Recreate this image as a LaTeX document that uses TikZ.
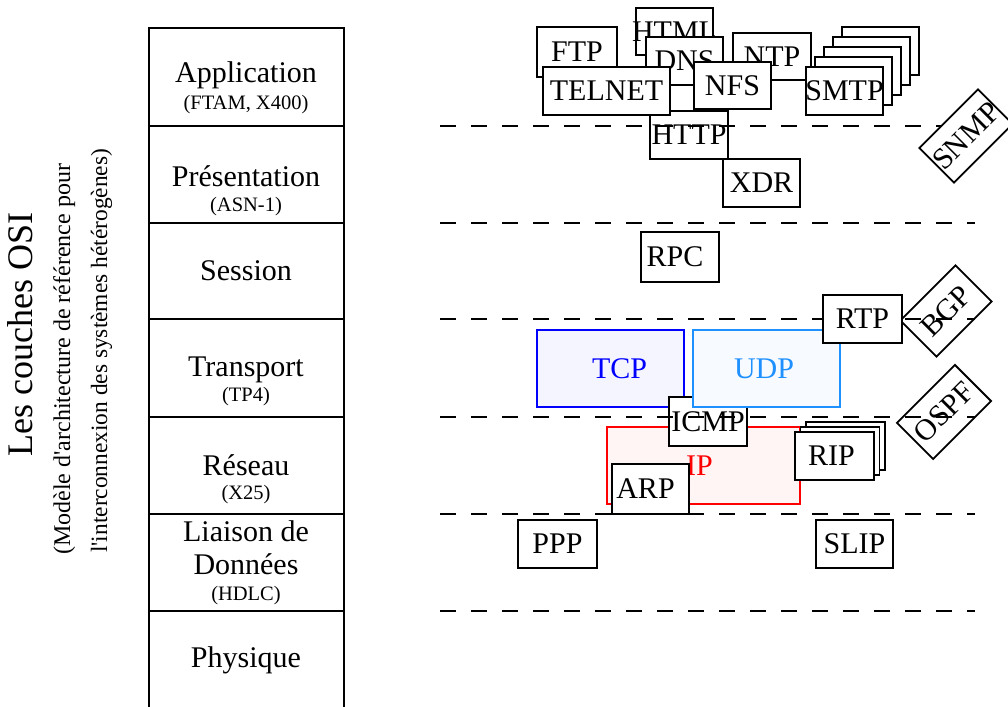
\documentclass[tikz,border=0pt]{standalone}
\usepackage{fontspec}
\setmainfont{Liberation Serif}[Ligatures=TeXOff]
\definecolor{tcpblue}{RGB}{0,0,255}
\definecolor{tcpfill}{RGB}{245,245,255}
\definecolor{udpblue}{RGB}{30,144,255}
\definecolor{udpfill}{RGB}{247,251,255}
\definecolor{ipred}{RGB}{255,0,0}
\definecolor{ipfill}{RGB}{255,245,245}
\begin{document}
\begin{tikzpicture}[x=1pt,y=-1pt,
  osi/.style={line width=1.8pt, line join=miter},
  layer/.style={font=\fontsize{30}{36}\selectfont, anchor=base, inner sep=0},
  sub/.style={font=\fontsize{20.5}{24}\selectfont, anchor=base, inner sep=0},
  side/.style={font=\fontsize{24}{28}\selectfont, rotate=90, anchor=base west, inner sep=0},
  sep/.style={line width=1.8pt, dash pattern=on 16pt off 15pt},
  proto/.style={draw, line width=1.8pt, fill=white, inner sep=0,
    font=\fontsize{30}{36}\selectfont, minimum width=78pt, minimum height=48pt},
  tilted/.style={proto, rotate=45},
]
\useasboundingbox (0,0) rectangle (1008,706);

% ---- OSI column ----
\draw[osi] (149,707) -- (149,28) -- (344,28) -- (344,707);
\foreach \yy in {126,223,319,417,514,611}{\draw[osi] (149,\yy) -- (344,\yy);}
\node[layer] (app) at (246,83) {Application};
\node[sub] (appsub) at (246,110) {(FTAM, X400)};
\node[layer] (pres) at (246,186) {Présentation};
\node[sub] (pressub) at (246,211) {(ASN-1)};
\node[layer] (sess) at (246,280) {Session};
\node[layer] (trans) at (246,376) {Transport};
\node[sub] (transsub) at (246,401) {(TP4)};
\node[layer] (res) at (246,475) {Réseau};
\node[sub] (ressub) at (246,499) {(X25)};
\node[layer] (liai) at (246,541) {Liaison de};
\node[layer] (donn) at (246,574) {Données};
\node[sub] (liaisub) at (246,600) {(HDLC)};
\node[layer] (phys) at (246,667) {Physique};

% ---- side titles ----
\node[font=\fontsize{36}{40}\selectfont, rotate=90, anchor=base west, inner sep=0] (title) at (32,457) {Les couches OSI};
\node[side] (title2) at (70,555) {(Modèle d'architecture de référence pour};
\node[side, font=\fontsize{23.4}{28}\selectfont] (title3) at (107,553) {l'interconnexion des systèmes hétérogènes)};

% ---- application cluster ----
\node[proto, minimum width=80pt, minimum height=50pt] (ftp) at (577,52) {\makebox[0pt]{FTP}};
\node[proto, minimum width=77pt, minimum height=47pt] (html) at (674.5,31.5) {\makebox[0pt]{HTML}};
\node[proto] (http) at (689,135) {\makebox[0pt]{HTTP}};
\node[proto, minimum width=77pt] (dns) at (684.5,61) {\makebox[0pt]{DNS}};
\node[proto, minimum width=127pt] (telnet) at (606.5,91) {\makebox[0pt]{TELNET}};
\node[proto, minimum height=47pt] (ntp) at (772,56.5) {\makebox[0pt]{NTP}};
\node[proto, minimum width=77pt, minimum height=47pt] (nfs) at (732.5,85.5) {\makebox[0pt]{NFS}};
\node[proto, minimum width=77pt] (smtp5) at (880.5,51) {};
\node[proto, minimum width=77pt] (smtp4) at (871.5,61) {};
\node[proto, minimum width=77pt] (smtp3) at (862.5,71) {};
\node[proto, minimum width=77pt] (smtp2) at (853.5,81) {};
\node[proto, minimum width=77pt] (smtp) at (844.5,91) {\makebox[0pt]{SMTP}};
\node[proto, minimum width=77pt] (xdr) at (761.5,183) {\makebox[0pt]{XDR}};
\node[proto, minimum height=50pt] (rpc) at (680,257) {\makebox[0pt]{RPC\hspace{10pt}}};

% ---- transport / network ----
\node[proto, minimum width=147pt, minimum height=77pt, draw=tcpblue, fill=tcpfill, text=tcpblue] (tcp) at (610.5,368.5) {\makebox[0pt]{\hspace{18pt}TCP}};
\node[proto, minimum width=193pt, minimum height=77pt, draw=ipred, fill=ipfill, text=ipred] (ip) at (703.5,465.5) {\makebox[0pt]{IP\hspace{8pt}}};
\node[proto, minimum height=49pt] (icmp) at (708,421.5) {\makebox[0pt]{ICMP}};
\node[proto, minimum width=147pt, minimum height=77pt, draw=udpblue, fill=udpfill, text=udpblue] (udp) at (766.5,368.5) {\makebox[0pt]{UDP\hspace{5pt}}};
\node[proto, minimum width=77pt, minimum height=50pt] (arp) at (650.5,489) {\makebox[0pt]{ARP\hspace{10pt}}};
\node[proto, minimum width=79pt] (rip3) at (845.5,446) {};
\node[proto, minimum width=79pt] (rip2) at (840,451) {};
\node[proto, minimum width=79pt] (rip) at (834.5,456) {\makebox[0pt]{RIP\hspace{6pt}}};
\node[proto, minimum width=79pt] (ppp) at (557.5,544) {\makebox[0pt]{PPP}};
\node[proto, minimum width=77pt] (slip) at (854.5,544) {\makebox[0pt]{SLIP}};
\node[tilted, minimum width=78pt, minimum height=51pt] (bgp) at (946,311) {\makebox[0pt]{BGP}};
\node[tilted, minimum width=82pt, minimum height=51pt] (ospf) at (944,412) {\makebox[0pt]{OSPF}};

% ---- layer separators ----
\foreach \yy in {126,223,319,417,514,611}{\draw[sep] (440,\yy) -- (975,\yy);}

% ---- boxes above separators ----
\node[proto, minimum width=79pt] (rtp) at (862.5,319) {\makebox[0pt]{RTP}};
\node[tilted, minimum width=83pt, minimum height=49pt] (snmp) at (966,136) {\makebox[0pt]{SNMP}};
\end{tikzpicture}
\end{document}
